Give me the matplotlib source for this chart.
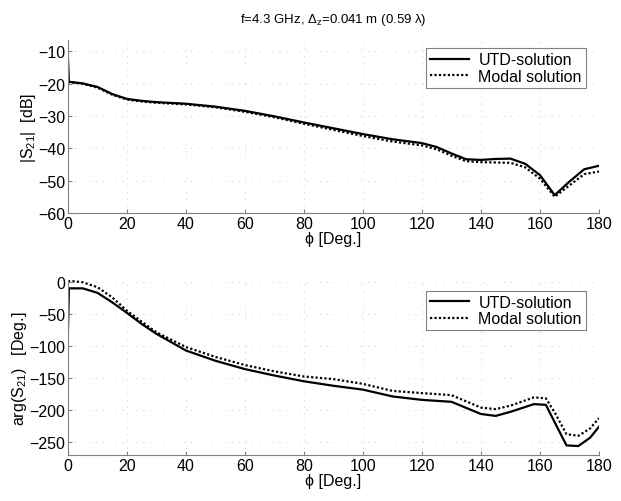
import numpy as np
import matplotlib.pyplot as plt

plt.rcParams['font.family'] = ['Liberation Sans', 'DejaVu Sans']
plt.rcParams['mathtext.fontset'] = 'custom'
plt.rcParams['mathtext.rm'] = 'Liberation Sans'
plt.rcParams['mathtext.it'] = 'Liberation Sans:italic'

# |S21| in dB
phi_mag = [0, 0.3, 5, 10, 15, 20, 25, 30, 40, 50, 60, 70, 80, 90, 100, 110, 120, 125,
           130, 135, 140, 145, 150, 155, 160, 165, 170, 175, 180]
mag_utd = [-12.5, -19.4, -19.9, -21.0, -23.2, -24.7, -25.3, -25.7, -26.2, -27.1, -28.4,
           -30.1, -32.0, -33.8, -35.6, -37.2, -38.4, -39.6, -41.6, -43.4, -43.6, -43.3,
           -43.2, -44.8, -48.3, -54.5, -50.3, -46.5, -45.4]
mag_modal = [-19.4, -19.5, -20.0, -21.2, -23.4, -24.9, -25.5, -25.9, -26.4, -27.3, -28.7,
             -30.4, -32.4, -34.3, -36.2, -37.9, -39.1, -40.3, -42.3, -44.0, -44.3, -44.4,
             -44.5, -45.9, -49.4, -55.0, -51.5, -48.0, -47.2]

# arg(S21) in degrees
phi_arg = [0, 0.3, 5, 10, 15, 20, 25, 30, 40, 50, 60, 70, 80, 90, 100, 110, 120, 130,
           140, 145, 150, 158, 162, 165, 169, 173, 177, 180]
arg_utd = [-73, -10, -10, -17, -31.8, -48.4, -65.6, -81, -107, -123, -136, -146, -155,
           -162, -168, -178.6, -184, -187, -206, -209, -202.6, -190.6, -191.7, -219,
           -255, -256, -243, -226]
arg_modal = [2, 1.8, -0.5, -8.3, -24, -45, -62, -78.6, -101.6, -117, -129.7, -139.5,
             -147.5, -151.6, -159, -170, -173.4, -176.6, -196, -198.4, -193, -180,
             -181.6, -203.6, -237.5, -240, -228.6, -212.5]

fig = plt.figure(figsize=(6.21, 5.02), dpi=100)
ax1 = fig.add_axes([0.1095, 0.574, 0.855, 0.344])
ax2 = fig.add_axes([0.1095, 0.0916, 0.855, 0.3486])

gray = '#808080'
fs = 11.5


def style(ax, ylim, yticks):
    ax.set_xlim(0, 180)
    ax.set_ylim(*ylim)
    ax.set_xticks(np.arange(0, 181, 20))
    ax.set_yticks(yticks)
    for s in ['top', 'right']:
        ax.spines[s].set_visible(False)
    for s in ['left', 'bottom']:
        ax.spines[s].set_color(gray)
        ax.spines[s].set_linewidth(0.8)
    ax.tick_params(direction='in', length=3, color=gray, labelsize=fs, pad=2)
    ax.grid(True, color='#cccccc', linestyle=(0, (1, 6)), linewidth=0.7)
    ax.set_xlabel('ϕ [Deg.]', fontsize=fs, labelpad=0)


ax1.plot(phi_mag, mag_utd, color='black', lw=1.6, label='UTD-solution')
ax1.plot(phi_mag, mag_modal, color='black', lw=1.6, linestyle=(0, (1, 1)),
         label='Modal solution')
style(ax1, (-60, -6.5), np.arange(-60, -9, 10))
ax1.set_ylabel('|S$_{21}$|  [dB]', fontsize=fs, labelpad=0)
ax1.set_title('f=4.3 GHz, $\\Delta_\\mathrm{z}$=0.041 m (0.59 λ)', fontsize=9.5, pad=13)
leg1 = ax1.legend(loc='upper right', bbox_to_anchor=(0.99, 1.0), fontsize=fs,
                  fancybox=False, edgecolor=gray, framealpha=1, handlelength=2.4,
                  borderpad=0.25, labelspacing=0.1, handletextpad=0.6)
leg1.get_frame().set_linewidth(0.8)

ax2.plot(phi_arg, arg_utd, color='black', lw=1.6, label='UTD-solution')
ax2.plot(phi_arg, arg_modal, color='black', lw=1.6, linestyle=(0, (1, 1)),
         label='Modal solution')
style(ax2, (-270, 3), np.arange(-250, 1, 50))
ax2.set_ylabel('arg(S$_{21}$)   [Deg.]', fontsize=fs, labelpad=0)
leg2 = ax2.legend(loc='upper right', bbox_to_anchor=(0.99, 0.985), fontsize=fs,
                  fancybox=False, edgecolor=gray, framealpha=1, handlelength=2.4,
                  borderpad=0.25, labelspacing=0.1, handletextpad=0.6)
leg2.get_frame().set_linewidth(0.8)

fig.savefig('out.png', dpi=100)
